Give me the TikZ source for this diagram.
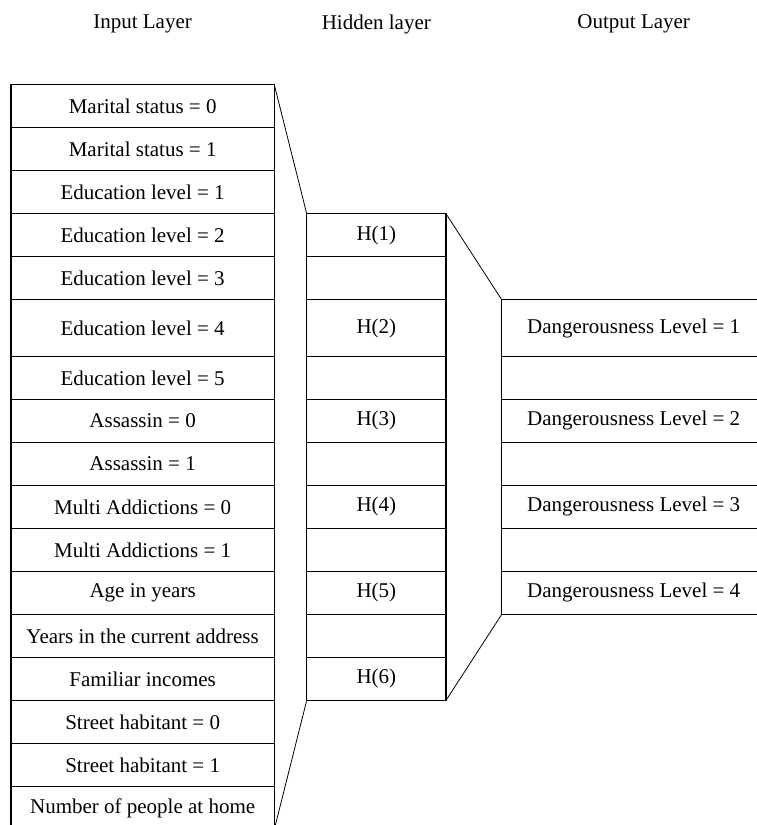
\documentclass[tikz,border=0pt]{standalone}
\usepackage{fontspec}
\setmainfont{Liberation Serif}
\usepackage{tikz}
\usetikzlibrary{positioning}
\tikzset{
  cell/.style={draw, line width=1.5pt, inner sep=0pt, outer sep=0pt, minimum height=43pt, font=\fontsize{21}{25}\selectfont},
  incell/.style={cell, minimum width=263.3pt},
  hidcell/.style={cell, minimum width=139.3pt},
  outcell/.style={cell, minimum width=264pt},
  tall/.style={minimum height=56.7pt},
  link/.style={line width=0.8pt},
  layertitle/.style={font=\fontsize{21}{25}\selectfont}
}

\begin{document}
\begin{tikzpicture}[x=1pt, y=-1pt]
  \useasboundingbox (0,0) rectangle (756,825);

  % titles
  \node[layertitle] (tin)  at (142.6,24) {Input Layer};
  \node[layertitle] (thid) at (376.3,24) {Hidden layer};
  \node[layertitle] (tout) at (633.7,24) {Output Layer};

  % input layer
  \node[incell, anchor=north west] (in1) at (11,84.7) {Marital status = 0};
  \node[incell, below=0pt of in1] (in2) {Marital status = 1};
  \node[incell, below=0pt of in2] (in3) {Education level = 1};
  \node[incell, below=0pt of in3] (in4) {Education level = 2};
  \node[incell, below=0pt of in4] (in5) {Education level = 3};
  \node[incell, tall, below=0pt of in5] (in6) {Education level = 4};
  \node[incell, below=0pt of in6] (in7) {Education level = 5};
  \node[incell, below=0pt of in7] (in8) {Assassin = 0};
  \node[incell, below=0pt of in8] (in9) {Assassin = 1};
  \node[incell, below=0pt of in9] (in10) {Multi Addictions = 0};
  \node[incell, below=0pt of in10] (in11) {Multi Addictions = 1};
  \node[incell, below=0pt of in11] (in12) {Age in years};
  \node[incell, below=0pt of in12] (in13) {Years in the current address};
  \node[incell, below=0pt of in13] (in14) {Familiar incomes};
  \node[incell, below=0pt of in14] (in15) {Street habitant = 0};
  \node[incell, below=0pt of in15] (in16) {Street habitant = 1};
  \node[incell, below=0pt of in16] (in17) {Number of people at home};

  % hidden layer
  \node[hidcell, right=32.4pt of in4] (h1) {H(1)};
  \node[hidcell, right=32.4pt of in5] (h2) {};
  \node[hidcell, tall, right=32.4pt of in6] (h3) {H(2)};
  \node[hidcell, right=32.4pt of in7] (h4) {};
  \node[hidcell, right=32.4pt of in8] (h5) {H(3)};
  \node[hidcell, right=32.4pt of in9] (h6) {};
  \node[hidcell, right=32.4pt of in10] (h7) {H(4)};
  \node[hidcell, right=32.4pt of in11] (h8) {};
  \node[hidcell, right=32.4pt of in12] (h9) {H(5)};
  \node[hidcell, right=32.4pt of in13] (h10) {};
  \node[hidcell, right=32.4pt of in14] (h11) {H(6)};

  % output layer
  \node[outcell, tall, right=55.7pt of h3] (o1) {Dangerousness Level = 1};
  \node[outcell, right=55.7pt of h4] (o2) {};
  \node[outcell, right=55.7pt of h5] (o3) {Dangerousness Level = 2};
  \node[outcell, right=55.7pt of h6] (o4) {};
  \node[outcell, right=55.7pt of h7] (o5) {Dangerousness Level = 3};
  \node[outcell, right=55.7pt of h8] (o6) {};
  \node[outcell, right=55.7pt of h9] (o7) {Dangerousness Level = 4};

  % funnel lines
  \draw[link] (in1.north east) -- (h1.north west);
  \draw[link] (in17.south east) -- (h11.south west);
  \draw[link] (h1.north east) -- (o1.north west);
  \draw[link] (h11.south east) -- (o7.south west);
\end{tikzpicture}
\end{document}
